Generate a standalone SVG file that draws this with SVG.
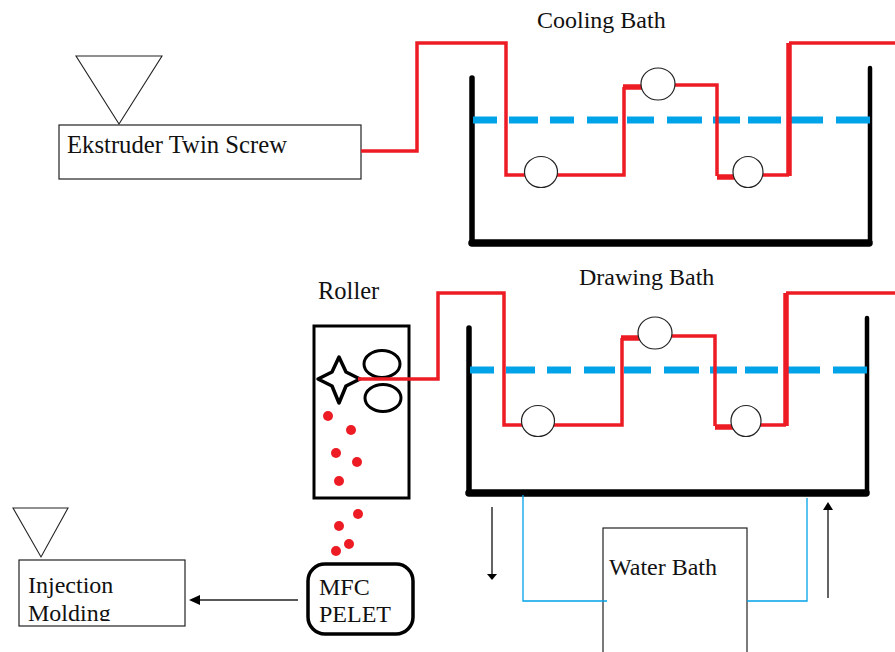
<svg xmlns="http://www.w3.org/2000/svg" width="895" height="652" viewBox="0 0 895 652">
<style>
text{font-family:"Liberation Serif","Times New Roman",serif;font-size:24px;fill:#111}
.box{fill:#fff;stroke:#222;stroke-width:1.2}
.tri{fill:#fff;stroke:#222;stroke-width:1.1}
.wl{fill:none;stroke:#000;stroke-width:5.5;stroke-linecap:round}
.wb{fill:none;stroke:#000;stroke-width:7.5;stroke-linecap:round}
.wr{fill:none;stroke:#000;stroke-width:4.5;stroke-linecap:round}
.water{fill:none;stroke:#00a2e8;stroke-width:7}
.red{fill:none;stroke:#ed1c24;stroke-width:3.5}
.redt{fill:none;stroke:#ed1c24;stroke-width:5.5}
.roll{fill:#fff;stroke:#222;stroke-width:1.2}
.pipe{fill:none;stroke:#00a2e8;stroke-width:1.3}
.arr{fill:none;stroke:#222;stroke-width:1.4}
.head{fill:#000}
.dot{fill:#ed1c24}
</style>
<defs>
<clipPath id="molding-clip"><rect x="19" y="560" width="166" height="61"/></clipPath>
<g id="bath-shape">
<path class="wl" d="M472 78V242"/>
<path class="wr" d="M870 68V242"/>
<path class="wb" d="M472 243H869"/>
<path class="water" d="M473 120H497M509 120H538M550 120H574M587 120H618M627 120H654M667 120H702M713 120H740M748 120H781M791 120H823M836 120H870"/>
</g>
</defs>
<g id="labels">
<text x="537" y="28">Cooling Bath</text>
<text x="579" y="285">Drawing Bath</text>
<text x="318" y="299" style="font-size:24.5px">Roller</text>
</g>
<g id="extruder">
<polygon class="tri" points="76,56 162,56 119,124"/>
<rect class="box" x="59" y="125" width="302" height="54"/>
<text x="67" y="153" style="font-size:24.7px">Ekstruder Twin Screw</text>
</g>
<g id="cooling-bath"><use href="#bath-shape"/></g>
<g id="drawing-bath"><use href="#bath-shape" transform="translate(-3 250)"/></g>
<g id="water-bath">
<rect class="box" x="603" y="528" width="144" height="130"/>
<text x="609" y="575">Water Bath</text>
</g>
<g id="roller">
<rect x="314" y="326" width="95" height="172" fill="#fff" stroke="#000" stroke-width="3"/>
<path d="M318 379L332 372L339 357L346 372L360 379L346 386L339 403L332 386Z" fill="#fff" stroke="#000" stroke-width="3.5" stroke-linejoin="round"/>
<ellipse cx="382" cy="364" rx="18" ry="13.5" fill="#fff" stroke="#000" stroke-width="3"/>
<ellipse cx="383" cy="398" rx="18" ry="13.5" fill="#fff" stroke="#000" stroke-width="3"/>
</g>
<g id="connectors">
<path class="red" d="M361 151H417V43H506V175H525"/>
<path class="red" d="M556 175H624V87"/>
<path class="redt" d="M623 87H642"/>
<path class="red" d="M675 85H717V176"/>
<path class="redt" d="M717 177H738"/>
<path class="red" d="M763 175H789"/>
<path class="redt" d="M789 176V43"/>
<path class="red" d="M789 43H895"/>
<path class="red" d="M358 379H438V293H504V425H523"/>
<path class="red" d="M553 425H622V338"/>
<path class="redt" d="M621 338H640"/>
<path class="red" d="M672 336H715V426"/>
<path class="redt" d="M715 427H736"/>
<path class="red" d="M760 425H786"/>
<path class="redt" d="M786 426V293"/>
<path class="red" d="M786 293H895"/>
<path class="pipe" d="M523 495V601H607"/>
<path class="pipe" d="M807 498V601H747"/>
<path class="arr" d="M298 600H196"/>
<path class="head" d="M189 600L200 595V605Z"/>
<path class="arr" d="M492 507V574"/>
<path class="head" d="M492 580L487 574H497Z"/>
<path class="arr" d="M828 598V510"/>
<path class="head" d="M828 502L833 510H823Z"/>
</g>
<g id="rollers-cooling">
<ellipse class="roll" cx="541" cy="172" rx="16.5" ry="15.5"/>
<ellipse class="roll" cx="658" cy="84" rx="17" ry="16"/>
<ellipse class="roll" cx="748" cy="172" rx="15" ry="15.5"/>
</g>
<g id="rollers-drawing">
<ellipse class="roll" cx="538" cy="421" rx="16.5" ry="15.5"/>
<ellipse class="roll" cx="655" cy="333" rx="17" ry="16"/>
<ellipse class="roll" cx="746" cy="421" rx="15" ry="15.5"/>
</g>
<g id="pellets">
<circle class="dot" cx="328" cy="416" r="5"/>
<circle class="dot" cx="351" cy="430" r="5"/>
<circle class="dot" cx="336" cy="453" r="5"/>
<circle class="dot" cx="357" cy="462" r="5"/>
<circle class="dot" cx="339" cy="481" r="5"/>
<circle class="dot" cx="358" cy="514" r="5"/>
<circle class="dot" cx="339" cy="526" r="5"/>
<circle class="dot" cx="349" cy="544" r="5"/>
<circle class="dot" cx="336" cy="551" r="5"/>
</g>
<g id="mfc-pelet">
<rect x="308" y="564" width="105" height="70" rx="17" fill="#fff" stroke="#000" stroke-width="3.5"/>
<text x="319" y="595">MFC</text>
<text x="319" y="622">PELET</text>
</g>
<g id="injection-molding">
<polygon class="tri" points="13,508 68,508 41,557"/>
<rect class="box" x="19" y="560" width="166" height="66"/>
<text x="28" y="593">Injection</text>
<text x="28" y="621" clip-path="url(#molding-clip)">Molding</text>
</g>
</svg>
